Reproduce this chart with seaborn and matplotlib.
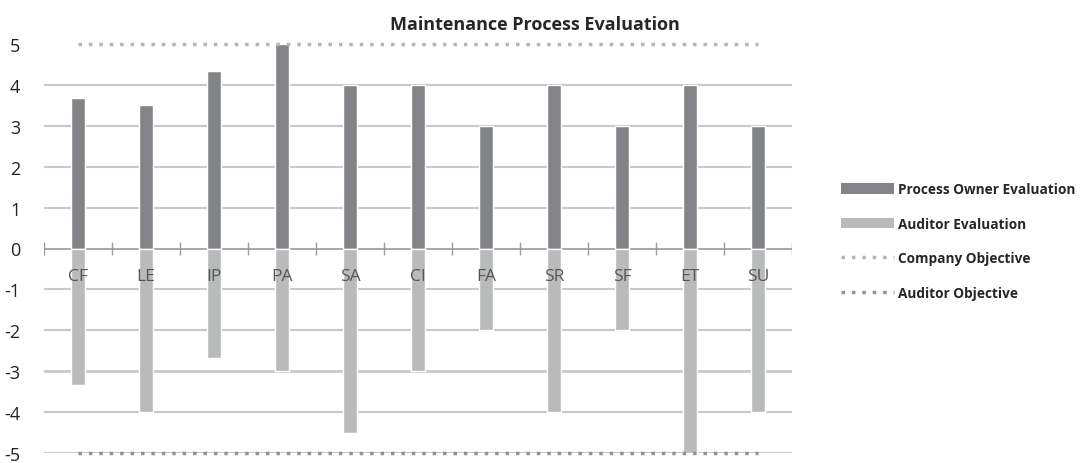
import numpy as np
import matplotlib
matplotlib.use("Agg")
import matplotlib.pyplot as plt
from matplotlib.patches import Patch
from matplotlib.lines import Line2D
import seaborn as sns

# chart data
categories = ["CF", "LE", "IP", "PA", "SA", "CI", "FA", "SR", "SF", "ET", "SU"]
owner_eval = [3.67, 3.5, 4.33, 5, 4, 4, 3, 4, 3, 4, 3]
auditor_eval = [-3.33, -4, -2.67, -3, -4.5, -3, -2, -4, -2, -5, -4]
company_objective = [5] * len(categories)
auditor_objective = [-5] * len(categories)
y_ticks = [-5, -4, -3, -2, -1, 0, 1, 2, 3, 4, 5]

OWNER_COLOR = "#838487"
AUDITOR_COLOR = "#b9babc"
COMPANY_OBJ_COLOR = "#b4b4b4"
AUDITOR_OBJ_COLOR = "#929292"

sns.set_style("white")
plt.rcParams["font.family"] = ["Open Sans", "DejaVu Sans"]

fig = plt.figure(figsize=(10.8, 4.64), dpi=100)
ax = fig.add_axes([44 / 1080, 1 - 454 / 464, (792 - 44) / 1080, (454 - 45) / 464])

# gridlines
for v in y_ticks[:-1]:
    if v != 0:
        ax.axhline(v, color="#c9c9cb", lw=2 if v == -3 else 1.5, zorder=0)

x = np.arange(len(categories))
sns.barplot(x=x, y=owner_eval, color=OWNER_COLOR, width=0.2, ax=ax,
            saturation=1, zorder=2)
sns.barplot(x=x, y=auditor_eval, color=AUDITOR_COLOR, width=0.2, ax=ax,
            saturation=1, zorder=2)

sns.lineplot(x=x, y=company_objective, ax=ax, color=COMPANY_OBJ_COLOR,
             lw=2.5, linestyle=(0, (1, 2)), zorder=3, clip_on=False)
sns.lineplot(x=x, y=auditor_objective, ax=ax, color=AUDITOR_OBJ_COLOR,
             lw=2.5, linestyle=(0, (1, 2)), zorder=3, clip_on=False)

# zero axis with category separators
ax.axhline(0, color="#9a9a9a", lw=1.2, zorder=1)
bounds = np.arange(len(categories) + 1) - 0.5
ax.vlines(bounds, -0.17, 0.17, color="#9a9a9a", lw=1, zorder=1)

for i, c in enumerate(categories):
    ax.text(i, -0.68, c, ha="center", va="center", fontsize=12.5,
            color="#555555", zorder=4)

ax.set_xlim(-0.5, len(categories) - 0.5)
ax.set_ylim(-5, 5)
ax.set_yticks(y_ticks)
ax.set_yticklabels([str(v) for v in y_ticks], fontsize=13, color="#222222")
ax.tick_params(axis="y", length=0, pad=17)
ax.set_xticks([])
ax.set_xlabel("")
for s in ax.spines.values():
    s.set_visible(False)

fig.text(535 / 1080, 1 - 25 / 464, "Maintenance Process Evaluation",
         ha="center", va="center", fontsize=13, fontweight="bold")

handles = [
    Patch(facecolor=OWNER_COLOR, edgecolor="none"),
    Patch(facecolor=AUDITOR_COLOR, edgecolor="none"),
    Line2D([0], [0], color=COMPANY_OBJ_COLOR, lw=2.5, linestyle=(0, (1, 2))),
    Line2D([0], [0], color=AUDITOR_OBJ_COLOR, lw=2.5, linestyle=(0, (1, 2))),
]
labels = ["Process Owner Evaluation", "Auditor Evaluation",
          "Company Objective", "Auditor Objective"]
fig.legend(handles, labels, loc="center left",
           bbox_to_anchor=(829 / 1080, 1 - 242 / 464), frameon=False,
           prop={"size": 9.8, "weight": "bold"}, labelspacing=1.5,
           handlelength=3.9, handleheight=0.8, handletextpad=0.25)

fig.savefig("out.png", dpi=100)
